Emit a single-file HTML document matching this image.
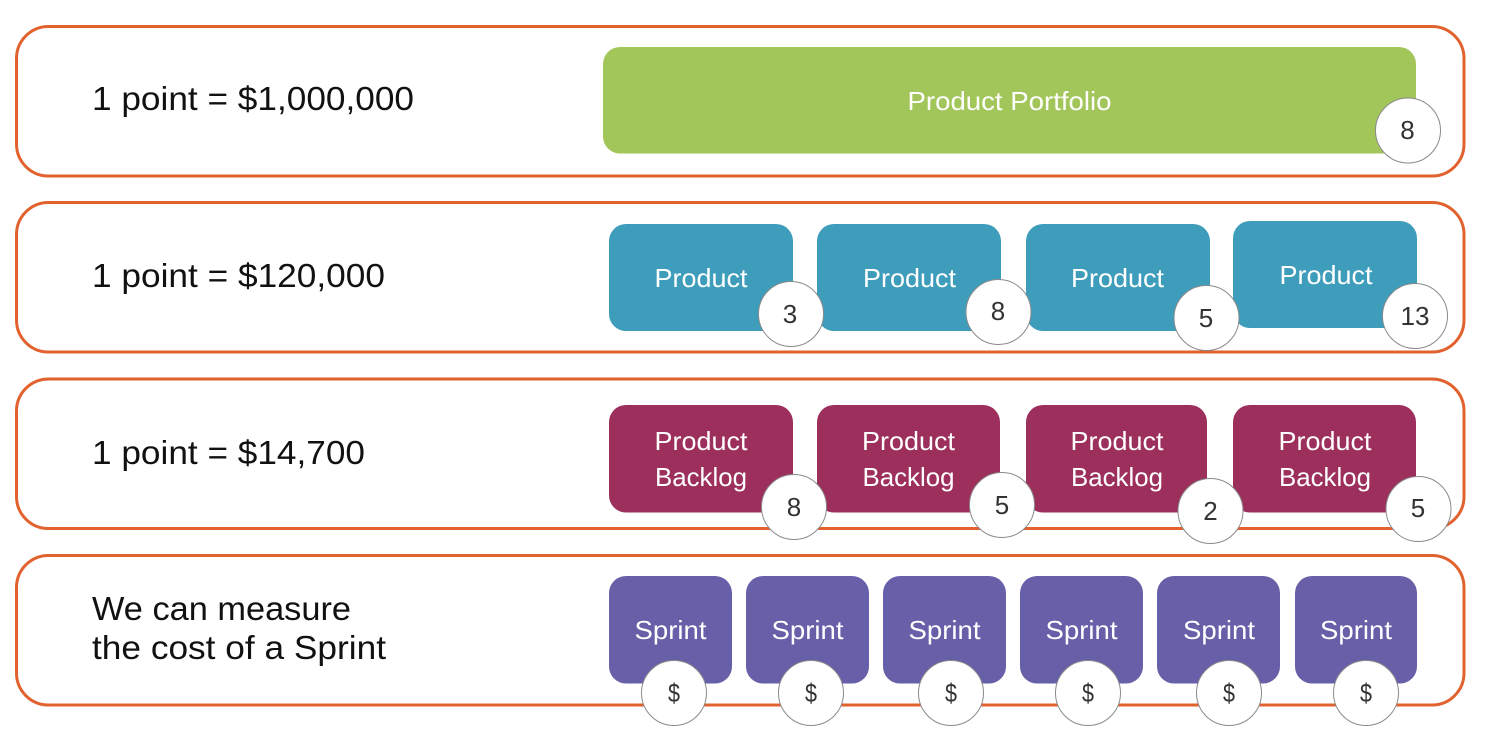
<!DOCTYPE html>
<html>
<head>
<meta charset="utf-8">
<style>
html,body{margin:0;padding:0;background:#fff;}
svg{display:block;}
text{font-family:"Liberation Sans",sans-serif;}
.lab{font-size:33px;fill:#111;}
.box{font-size:26px;fill:#fff;text-anchor:middle;}
.num{font-size:26px;fill:#333;text-anchor:middle;}
.row{fill:#fff;stroke:#E2622F;stroke-width:3;}
.c{fill:#fff;stroke:#8a8a8a;stroke-width:1;}
</style>
</head>
<body>
<svg width="1492" height="741" viewBox="0 0 1492 741" xmlns="http://www.w3.org/2000/svg">
<rect width="1492" height="741" fill="#fff"/>
<rect class="row" x="16.5" y="26.5" width="1447.500" height="149.500" rx="32"/>
<rect class="row" x="16.5" y="202.5" width="1447.500" height="149.500" rx="32"/>
<rect class="row" x="16.5" y="379" width="1447.500" height="149.500" rx="32"/>
<rect class="row" x="16.5" y="555.5" width="1447.500" height="149.500" rx="32"/>

<text class="lab" x="92" y="110" textLength="322" lengthAdjust="spacingAndGlyphs">1 point = $1,000,000</text>
<text class="lab" x="92" y="287" textLength="293" lengthAdjust="spacingAndGlyphs">1 point = $120,000</text>
<text class="lab" x="92" y="464" textLength="273" lengthAdjust="spacingAndGlyphs">1 point = $14,700</text>
<text class="lab" x="92" y="620" textLength="259" lengthAdjust="spacingAndGlyphs">We can measure</text>
<text class="lab" x="92" y="659" textLength="294" lengthAdjust="spacingAndGlyphs">the cost of a Sprint</text>

<rect x="603" y="47" width="813" height="106.500" rx="17" fill="#A2C65A"/>
<text class="box" x="1009.500" y="110" textLength="204" lengthAdjust="spacingAndGlyphs">Product Portfolio</text>

<g fill="#3F9DBC">
<rect x="609" y="224" width="184" height="107" rx="17"/>
<rect x="817" y="224" width="184" height="107" rx="17"/>
<rect x="1026" y="224" width="184" height="107" rx="17"/>
<rect x="1233" y="221" width="184" height="107" rx="17"/>
</g>
<text class="box" x="701" y="287" textLength="93" lengthAdjust="spacingAndGlyphs">Product</text>
<text class="box" x="909.500" y="287" textLength="93" lengthAdjust="spacingAndGlyphs">Product</text>
<text class="box" x="1117.500" y="287" textLength="93" lengthAdjust="spacingAndGlyphs">Product</text>
<text class="box" x="1326" y="284" textLength="93" lengthAdjust="spacingAndGlyphs">Product</text>

<g fill="#9C2F5B">
<rect x="609" y="405" width="184" height="107.500" rx="17"/>
<rect x="817" y="405" width="183" height="107.500" rx="17"/>
<rect x="1026" y="405" width="181" height="107.500" rx="17"/>
<rect x="1233" y="405" width="183" height="107.500" rx="17"/>
</g>
<g>
<text class="box" x="701" y="450" textLength="93" lengthAdjust="spacingAndGlyphs">Product</text>
<text class="box" x="701" y="486" textLength="92" lengthAdjust="spacingAndGlyphs">Backlog</text>
<text class="box" x="908.500" y="450" textLength="93" lengthAdjust="spacingAndGlyphs">Product</text>
<text class="box" x="908.500" y="486" textLength="92" lengthAdjust="spacingAndGlyphs">Backlog</text>
<text class="box" x="1117" y="450" textLength="93" lengthAdjust="spacingAndGlyphs">Product</text>
<text class="box" x="1117" y="486" textLength="92" lengthAdjust="spacingAndGlyphs">Backlog</text>
<text class="box" x="1325" y="450" textLength="93" lengthAdjust="spacingAndGlyphs">Product</text>
<text class="box" x="1325" y="486" textLength="92" lengthAdjust="spacingAndGlyphs">Backlog</text>
</g>

<g fill="#675FA8">
<rect x="609" y="576" width="123" height="107.500" rx="17"/>
<rect x="746" y="576" width="123" height="107.500" rx="17"/>
<rect x="883" y="576" width="123" height="107.500" rx="17"/>
<rect x="1020" y="576" width="123" height="107.500" rx="17"/>
<rect x="1157" y="576" width="123" height="107.500" rx="17"/>
<rect x="1295" y="576" width="122" height="107.500" rx="17"/>
</g>
<text class="box" x="670.500" y="639" textLength="72" lengthAdjust="spacingAndGlyphs">Sprint</text>
<text class="box" x="807.500" y="639" textLength="72" lengthAdjust="spacingAndGlyphs">Sprint</text>
<text class="box" x="944.500" y="639" textLength="72" lengthAdjust="spacingAndGlyphs">Sprint</text>
<text class="box" x="1081.500" y="639" textLength="72" lengthAdjust="spacingAndGlyphs">Sprint</text>
<text class="box" x="1219" y="639" textLength="72" lengthAdjust="spacingAndGlyphs">Sprint</text>
<text class="box" x="1356" y="639" textLength="72" lengthAdjust="spacingAndGlyphs">Sprint</text>

<circle class="c" cx="1408" cy="130.500" r="32.500"/><text class="num" x="1407.500" y="139">8</text>

<circle class="c" cx="791" cy="314" r="32.500"/><text class="num" x="790" y="323">3</text>
<circle class="c" cx="998.500" cy="312" r="32.500"/><text class="num" x="998" y="320">8</text>
<circle class="c" cx="1206.500" cy="318" r="32.500"/><text class="num" x="1206" y="327">5</text>
<circle class="c" cx="1415" cy="316" r="32.500"/><text class="num" x="1415" y="325" textLength="29" lengthAdjust="spacingAndGlyphs">13</text>

<circle class="c" cx="794" cy="507" r="32.500"/><text class="num" x="794" y="516">8</text>
<circle class="c" cx="1002" cy="505" r="32.500"/><text class="num" x="1002" y="514">5</text>
<circle class="c" cx="1210.500" cy="511" r="32.500"/><text class="num" x="1210.500" y="520">2</text>
<circle class="c" cx="1418.500" cy="509" r="32.500"/><text class="num" x="1418" y="517">5</text>

<circle class="c" cx="674" cy="693" r="32.500"/><text class="num" x="674" y="702" textLength="12" lengthAdjust="spacingAndGlyphs">$</text>
<circle class="c" cx="811" cy="693" r="32.500"/><text class="num" x="811" y="702" textLength="12" lengthAdjust="spacingAndGlyphs">$</text>
<circle class="c" cx="951" cy="693" r="32.500"/><text class="num" x="951" y="702" textLength="12" lengthAdjust="spacingAndGlyphs">$</text>
<circle class="c" cx="1088" cy="693" r="32.500"/><text class="num" x="1088" y="702" textLength="12" lengthAdjust="spacingAndGlyphs">$</text>
<circle class="c" cx="1229" cy="693" r="32.500"/><text class="num" x="1229" y="702" textLength="12" lengthAdjust="spacingAndGlyphs">$</text>
<circle class="c" cx="1366" cy="693" r="32.500"/><text class="num" x="1366" y="702" textLength="12" lengthAdjust="spacingAndGlyphs">$</text>
</svg>
</body>
</html>
